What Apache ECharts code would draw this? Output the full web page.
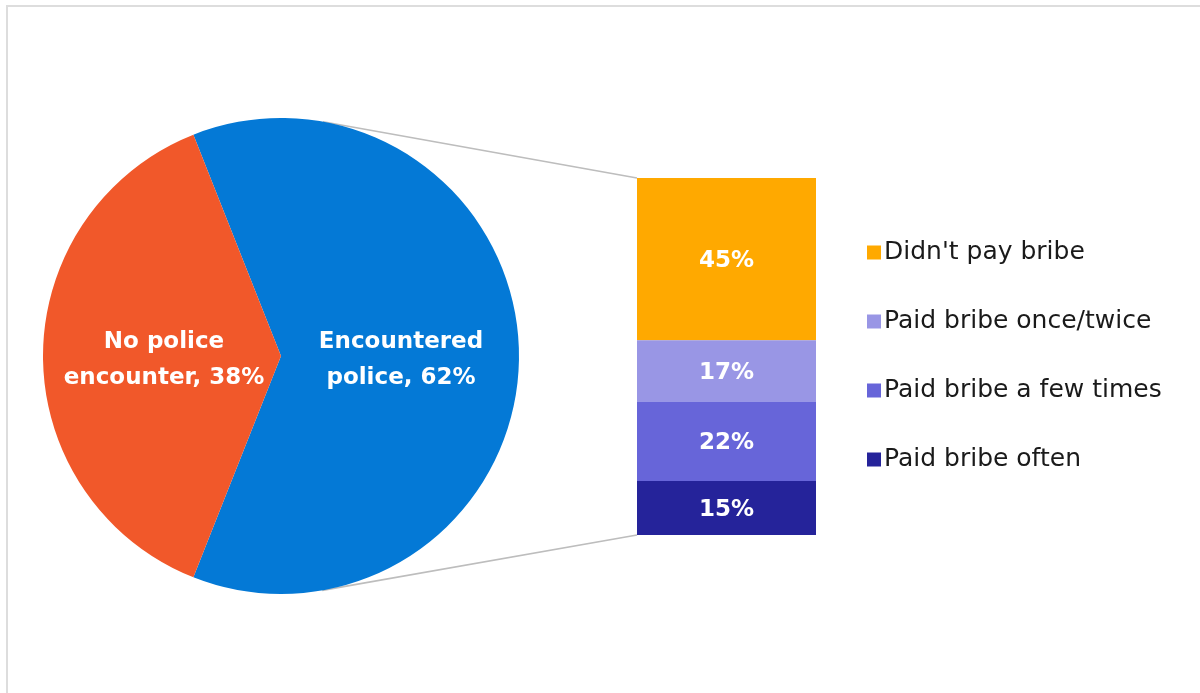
<!DOCTYPE html>
<html>
<head>
<meta charset="utf-8">
<script src="https://cdn.jsdelivr.net/npm/echarts@6/dist/echarts.min.js"></script>
<style>
  html, body { margin: 0; padding: 0; background: #fff; }
  #chart { width: 1200px; height: 693px; }
</style>
</head>
<body>
<div id="chart"></div>
<script>
// Police encounters, and how often bribes were paid among those who encountered police
const pieNames = ['Encountered\npolice', 'No police\nencounter'];
const pieValues = [62, 38];
const pieColors = ['#0479D6', '#F1582A'];

const barNames = ["Didn't pay bribe", 'Paid bribe once/twice', 'Paid bribe a few times', 'Paid bribe often'];
const barValues = [45, 17, 22, 15];
const barColors = ['#FFA900', '#9996E5', '#6765D9', '#25239A'];

// Layout
const PIE_CX = 281, PIE_CY = 356, PIE_R = 238;
const BAR_LEFT = 637, BAR_TOP = 178, BAR_W = 179, BAR_H = 357;
const FONT = '"DejaVu Sans", sans-serif';
const pieLabelOffsets = [[-2, 4], [5, 4]];

const barTotal = barValues.reduce((a, b) => a + b, 0);

// Tangent point on the pie circle seen from an external point
function tangentPoint(px, py, sign) {
  const dx = px - PIE_CX, dy = py - PIE_CY;
  const d = Math.hypot(dx, dy);
  const a = Math.atan2(dy, dx) + sign * Math.acos(PIE_R / d);
  return [PIE_CX + PIE_R * Math.cos(a), PIE_CY + PIE_R * Math.sin(a)];
}
const topCorner = [BAR_LEFT, BAR_TOP];
const botCorner = [BAR_LEFT, BAR_TOP + BAR_H];
const topTan = tangentPoint(topCorner[0], topCorner[1], -1);
const botTan = tangentPoint(botCorner[0], botCorner[1], 1);

const chart = echarts.init(document.getElementById('chart'), null, { renderer: 'canvas' });

const option = {
  backgroundColor: '#ffffff',
  animation: false,
  textStyle: { fontFamily: FONT },
  graphic: [
    {
      type: 'rect',
      shape: { x: 7, y: 6, width: 1210, height: 710 },
      style: { fill: 'none', stroke: '#DDDDDD', lineWidth: 2 },
      silent: true, z: -10
    },
    {
      type: 'line',
      shape: { x1: topTan[0], y1: topTan[1], x2: topCorner[0], y2: topCorner[1] },
      style: { stroke: '#BDBDBD', lineWidth: 1.6 },
      silent: true, z: -1
    },
    {
      type: 'line',
      shape: { x1: botTan[0], y1: botTan[1], x2: botCorner[0], y2: botCorner[1] },
      style: { stroke: '#BDBDBD', lineWidth: 1.6 },
      silent: true, z: -1
    }
  ],
  legend: {
    data: barNames,
    orient: 'vertical',
    left: 862,
    top: 235,
    icon: 'rect',
    itemWidth: 14,
    itemHeight: 14,
    itemGap: 44,
    textStyle: { fontFamily: FONT, fontSize: 25, color: '#1A1A1A', lineHeight: 24, padding: [0, 0, 0, -2] }
  },
  grid: { left: BAR_LEFT, top: BAR_TOP, width: BAR_W, height: BAR_H, containLabel: false },
  xAxis: { type: 'category', data: ['Encountered police'], show: false },
  yAxis: { type: 'value', min: 0, max: barTotal, inverse: true, show: false },
  series: [
    {
      type: 'pie',
      center: [PIE_CX, PIE_CY],
      radius: [0, PIE_R],
      // the encountered slice is centred on the right-hand side of the pie
      startAngle: pieValues[0] / 100 * 360 / 2,
      clockwise: true,
      label: {
        show: true,
        position: 'inside',
        color: '#FFFFFF',
        fontFamily: FONT,
        fontWeight: 'bold',
        fontSize: 23,
        lineHeight: 36,
        align: 'center',
        formatter: p => p.name + ', ' + p.value + '%'
      },
      labelLine: { show: false },
      itemStyle: { borderWidth: 0 },
      emphasis: { disabled: true },
      data: pieNames.map((n, i) => ({
        name: n,
        value: pieValues[i],
        itemStyle: { color: pieColors[i] },
        label: { offset: pieLabelOffsets[i] }
      }))
    }
  ].concat(barNames.map((n, i) => ({
    type: 'bar',
    name: n,
    stack: 'bribe',
    barWidth: '100%',
    itemStyle: { color: barColors[i] },
    label: {
      show: true,
      position: 'inside',
      color: '#FFFFFF',
      fontFamily: FONT,
      fontWeight: 'bold',
      fontSize: 23,
      offset: [0, 2],
      formatter: '{c}%'
    },
    emphasis: { disabled: true },
    data: [barValues[i]]
  })))
};

chart.setOption(option);
</script>
</body>
</html>
